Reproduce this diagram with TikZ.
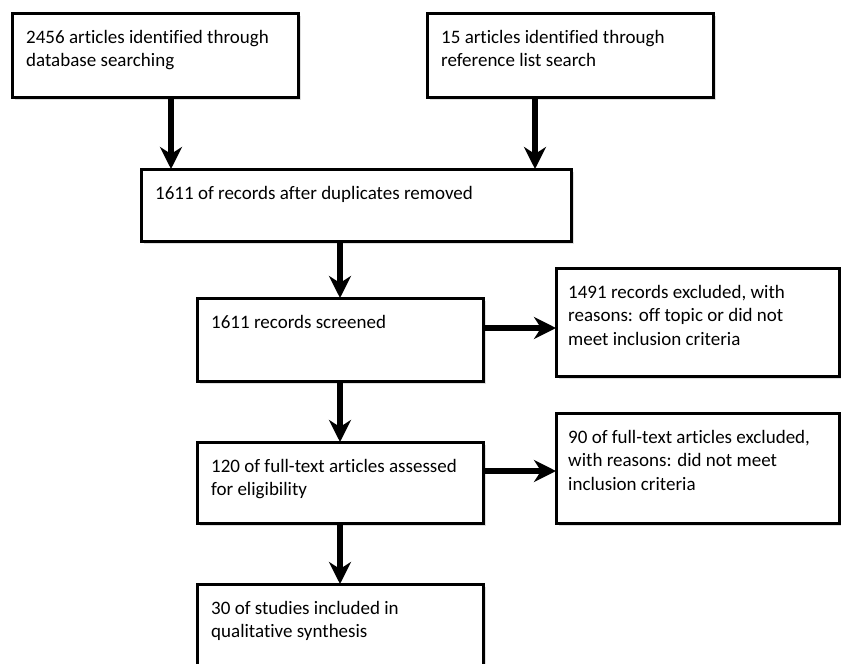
\documentclass[tikz,border=0pt]{standalone}
\usepackage{fontspec}
\setmainfont{Carlito}[Ligatures=NoCommon]
\usetikzlibrary{arrows.meta,shadows}
\tikzset{
	flow chart/.style={x=1pt, y=-1pt,
		font=\fontsize{19pt}{23.5pt}\selectfont},
	stage/.style 2 args={draw, line width=3pt, fill=white,
		anchor=north west, inner sep=0pt, outer sep=0pt,
		minimum width=#1, minimum height=#2,
		drop shadow={shadow xshift=2.5pt, shadow yshift=-3pt, opacity=.25}},
	stage text/.style={anchor=north west, align=left, inner sep=0pt,
		xshift=14pt, yshift=-17pt},
	ar/.style={line width=5.5pt, -{Stealth[length=22pt, width=22pt, inset=7pt]}}
}
\begin{document}
\begin{tikzpicture}[flow chart]
  \useasboundingbox (0,0) rectangle (841,664);
  % boxes
  \node[stage={286pt}{84pt}] (ident) at (12,13) {};
  \node[stage={286pt}{84pt}] (refs) at (427,13) {};
  \node[stage={430pt}{72pt}] (dedup) at (141,169) {};
  \node[stage={286pt}{83pt}] (screen) at (197,298) {};
  \node[stage={283pt}{108pt}] (excl1) at (556,268) {};
  \node[stage={286pt}{81pt}] (elig) at (197,442) {};
  \node[stage={283pt}{110pt}] (excl2) at (556,413) {};
  \node[stage={286pt}{90pt}] (incl) at (197,584) {};
  % texts
  \node[stage text] (ident-t) at (ident.north west) {2456 articles identified through\\database searching};
  \node[stage text] (refs-t) at (refs.north west) {15 articles identified through\\reference list search};
  \node[stage text] (dedup-t) at (dedup.north west) {1611 of records after duplicates removed};
  \node[stage text] (screen-t) at (screen.north west) {1611 records screened};
  \node[stage text, xshift=-2pt] (excl1-t) at (excl1.north west) {1491 records excluded, with\\reasons: off topic or did not\\meet inclusion criteria};
  \node[stage text] (elig-t) at (elig.north west) {120 of full-text articles assessed\\for eligibility};
  \node[stage text, xshift=-2pt] (excl2-t) at (excl2.north west) {90 of full-text articles excluded,\\with reasons: did not meet\\inclusion criteria};
  \node[stage text] (incl-t) at (incl.north west) {30 of studies included in\\qualitative synthesis};
  % arrows
  \draw[ar] ([xshift=16pt]ident.south) -- ([xshift=-185pt]dedup.north);
  \draw[ar] ([xshift=-35pt]refs.south) -- ([xshift=179pt]dedup.north);
  \draw[ar] (dedup.south -| screen.north) -- (screen.north);
  \draw[ar] ([yshift=11.5pt]screen.east) -- ([yshift=-6pt]excl1.west);
  \draw[ar] (screen.south) -- (elig.north);
  \draw[ar] ([yshift=11.5pt]elig.east) -- ([yshift=-3pt]excl2.west);
  \draw[ar] (elig.south) -- (incl.north);
\end{tikzpicture}
\end{document}
